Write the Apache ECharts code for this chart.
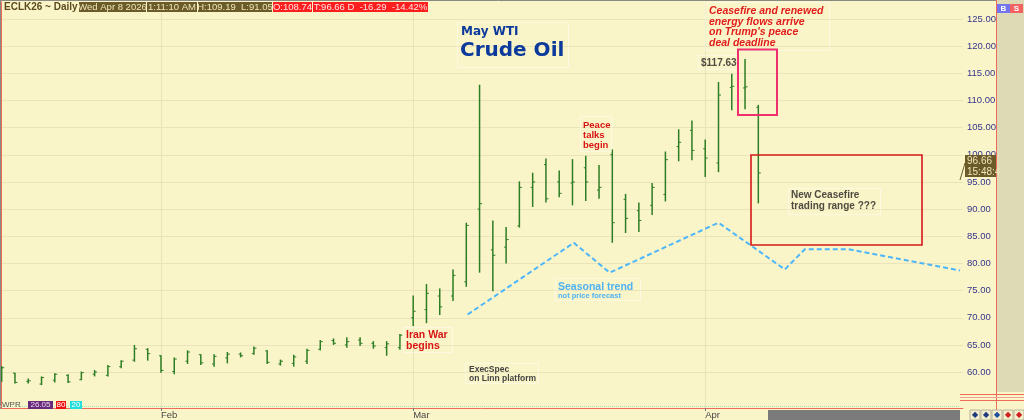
<!DOCTYPE html>
<html><head><meta charset="utf-8">
<script src="https://cdn.jsdelivr.net/npm/echarts@6/dist/echarts.min.js"></script>
<style>html,body{margin:0;padding:0;background:#faf5c9;}#c{width:1024px;height:420px;}</style>
</head><body><div id="c"></div>
<script>
// ---- data ----
const dates = ['Jan 14','Jan 15','Jan 16','Jan 20','Jan 21','Jan 22','Jan 23','Jan 26','Jan 27','Jan 28','Jan 29','Jan 30',
 'Feb 2','Feb 3','Feb 4','Feb 5','Feb 6','Feb 9','Feb 10','Feb 11','Feb 12','Feb 13','Feb 17','Feb 18','Feb 19','Feb 20','Feb 23','Feb 24','Feb 25','Feb 26','Feb 27',
 'Mar 2','Mar 3','Mar 4','Mar 5','Mar 6','Mar 9','Mar 10','Mar 11','Mar 12','Mar 13','Mar 16','Mar 17','Mar 18','Mar 19','Mar 20','Mar 23','Mar 24','Mar 25','Mar 26','Mar 27','Mar 30','Mar 31',
 'Apr 1','Apr 2','Apr 6','Apr 7','Apr 8'];
const openP  = [59.0,59.8,58.3,57.8,58.5,59.4,58.6,59.6,59.4,61.0,62.2,64.2,
 63.0,60.1,62.0,63.2,61.5,62.6,63.3,63.4,63.9,61.5,61.6,62.0,64.2,65.8,65.0,65.9,65.3,64.5,64.5,
 70.0,71.5,74.0,74.0,76.6,90.0,82.5,83.0,86.9,94.0,98.2,95.0,94.8,97.6,93.5,100.0,91.8,89.7,90.7,92.7,101.5,104.5,
 101.1,98.5,112.4,112.3,108.74];
const highP  = [61.1,59.9,58.8,59.2,59.8,59.6,60.1,60.4,61.3,62.2,65.0,64.4,
 63.1,62.7,64.0,63.3,63.3,63.7,63.6,64.7,64.0,62.3,63.2,64.3,65.9,66.2,66.4,66.4,65.7,65.7,67.0,
 74.1,76.2,75.4,78.9,87.5,112.9,87.9,86.7,95.1,96.7,99.3,97.1,99.2,99.8,98.1,101.0,92.8,91.2,94.8,100.6,104.7,106.3,
 102.8,113.4,114.9,117.63,109.19];
const lowP   = [58.2,57.9,57.9,57.6,58.1,58.0,58.5,59.2,59.2,60.7,61.9,62.1,
 59.9,59.6,61.5,61.3,61.0,61.6,62.7,63.2,61.5,61.2,61.0,61.5,64.0,65.0,64.5,64.8,64.3,63.0,64.1,
 68.5,69.0,70.5,73.1,75.7,78.3,74.9,80.0,86.6,90.4,91.2,92.2,90.7,91.5,91.9,83.8,85.6,85.8,88.9,91.4,98.8,99.0,
 95.9,96.8,108.2,108.4,91.05];
const closeP = [60.8,58.1,58.4,59.0,59.6,58.2,59.9,60.0,61.0,62.0,64.3,63.4,
 60.3,62.4,63.7,61.7,62.9,63.3,63.0,64.4,61.8,62.0,62.8,64.0,65.6,65.3,65.6,65.3,64.8,65.2,66.8,
 71.2,74.5,72.0,77.8,87.0,91.0,81.5,84.4,94.0,95.0,91.9,92.9,95.0,95.0,94.0,87.5,88.3,87.9,94.0,99.1,102.3,100.8,
 99.4,111.0,112.6,112.5,96.66];
// seasonal trend: x = trading-day index (future days continue the count), y = price
const seasonalIdx = [35.1, 43.1, 45.8, 54.0, 59.0, 60.5, 63.8, 72.2];
const seasonalVal = [70.6, 83.8, 78.3, 87.5, 78.9, 82.6, 82.6, 78.7];
const priceTicks = [60,65,70,75,80,85,90,95,100,105,110,115,120,125];
const monthNames = {Jan:'Jan',Feb:'Feb',Mar:'Mar',Apr:'Apr'};

// month ticks: first trading day of each new month
const monthIdx = [];
dates.forEach((d,i)=>{ if(i>0 && d.split(' ')[0]!==dates[i-1].split(' ')[0]) monthIdx.push(i); });

const ohlc = dates.map((d,i)=>[i, openP[i], highP[i], lowP[i], closeP[i]]);
const seasonal = seasonalIdx.map((x,i)=>[x, seasonalVal[i]]);

const chart = echarts.init(document.getElementById('c'));
const BAR = '#2d7d25';
const G = [];
function rect(x,y,w,h,fill,stroke,lw,dash){G.push({type:'rect',z:100,shape:{x,y,width:w,height:h},style:{fill:fill||'none',stroke:stroke||'none',lineWidth:lw||1,lineDash:dash||null}});}
function line(x1,y1,x2,y2,stroke,lw,dash){G.push({type:'line',z:100,shape:{x1,y1,x2,y2},style:{stroke,lineWidth:lw||1,lineDash:dash||null}});}
function txt(x,y,t,font,fill,align,va){G.push({type:'text',z:101,x,y,style:{text:t,font,fill,align:align||'left',verticalAlign:va||'middle'}});}

// frame
line(0,0.5,997,0.5,'#8a8a80',1);
line(0.5,0,0.5,409,'#8a8a80',1);
// right panel
rect(997,0,27,392,'#dedab6');
line(996.5,0,996.5,420,'#ee6a5a',1);
rect(997,4,13,9,'#7474ee'); txt(1003.5,8.5,'B','bold 8px "Liberation Sans"','#ffffff','center');
rect(1010,4,13,9,'#f26262'); txt(1016.5,8.5,'S','bold 8px "Liberation Sans"','#ffffff','center');
line(960,394.5,1024,394.5,'#ee6a5a',1);
line(960,397.5,1024,397.5,'#f0a090',1);
line(960,400.5,1024,400.5,'#ee6a5a',1);
// bottom strip
rect(768,410,192,10,'#7b7b7b');
const btnCols=['#203a80','#203a80','#2050a0','#d02020','#d02020'];
for(let k=0;k<5;k++){rect(970+k*11,410,10,10,'#f3eecb','#b8b49a',1); txt(975+k*11,415,'◆','8px "DejaVu Sans"',btnCols[k],'center');}
// WPR indicator strip
line(0,406.5,960,406.5,'#9fe3c6',1,[1,1]);
txt(2,405,'WPR','8px "Liberation Sans"','#555555');
rect(28,401,25,8,'#6a2a7a'); txt(40.5,405,'26.05','8px "Liberation Sans"','#e8d8f0','center');
rect(56,401,10,8,'#ee1111'); txt(61,405,'80','8px "Liberation Sans"','#ffffff','center');
rect(70,401,12,8,'#22dddd'); txt(76,405,'20','8px "Liberation Sans"','#ffffff','center');

// header
txt(4,7.5,'ECLK26 ~ Daily','bold 10px "Liberation Sans"','#5b4b1c');
const hb=[[79,67,'#6b5b2b','Wed Apr 8 2026','#efe5b5'],[147,50,'#6b5b2b','1:11:10 AM','#efe5b5'],[198,74,'#6b5b2b','H:109.19  L:91.05','#efe5b5'],
 [273,39,'#ff1e1e','O:108.74','#ffe4e4'],[313,115,'#ff1e1e','T:96.66 D  -16.29  -14.42%','#ffe4e4']];
hb.forEach(b=>{rect(b[0],2,b[1],10,b[2]); txt(b[0]+b[1]/2,7.5,b[3],'9.5px "Liberation Sans"',b[4],'center');});

// title
rect(457.5,22.5,111,45,'none','rgba(255,255,255,0.9)',1,[1,1]);
txt(461,31.5,'May WTI','bold 12px "DejaVu Sans"','#0c3a9c');
txt(460,51,'Crude Oil','bold 20px "DejaVu Sans"','#0c3a9c');

// annotations
rect(705.5,2.5,124,48,'none','rgba(255,255,255,0.9)',1,[1,1]);
['Ceasefire and renewed','energy flows arrive','on Trump\'s peace','deal deadline'].forEach((s,i)=>txt(709,11+i*10.7,s,'italic bold 10.5px "Liberation Sans"','#e01c1c'));
rect(698.5,55.5,40,14,'none','rgba(255,255,255,0.9)',1,[1,1]);
txt(701,63,'$117.63','bold 10px "Liberation Sans"','#504c40');
rect(738,49.5,39,65.5,'none','#f0306e',2);
rect(751,155,171,90,'none','#d41a1a',1.6);
rect(788.5,188.5,92,26,'none','rgba(255,255,255,0.9)',1,[1,1]);
txt(791,195.5,'New Ceasefire','bold 10px "Liberation Sans"','#4e4a40');
txt(791,206.5,'trading range ???','bold 10px "Liberation Sans"','#4e4a40');
rect(580.5,116.5,31,35,'none','rgba(255,255,255,0.9)',1,[1,1]);
['Peace','talks','begin'].forEach((s,i)=>txt(583,125+i*10,s,'bold 9.5px "Liberation Sans"','#d81414'));
rect(403.5,327.5,49,25,'none','rgba(255,255,255,0.9)',1,[1,1]);
txt(406,335,'Iran War','bold 10.5px "Liberation Sans"','#d81414');
txt(406,346,'begins','bold 10.5px "Liberation Sans"','#d81414');
rect(555.5,278.5,85,22,'none','rgba(255,255,255,0.9)',1,[1,1]);
txt(558,287,'Seasonal trend','bold 10.5px "Liberation Sans"','#4fb2f2');
txt(558,296,'not price forecast','bold 7.5px "Liberation Sans"','#4fb2f2');
rect(465.5,363.5,73,20,'none','rgba(255,255,255,0.9)',1,[1,1]);
txt(469,369.5,'ExecSpec','bold 8.5px "Liberation Sans"','#444444');
txt(469,378.5,'on Linn platform','bold 8.5px "Liberation Sans"','#444444');
// last price box
line(960,180,965,163,'#6b5b2b',1);
rect(965,155,31,22,'#6b5b2b');
txt(967,161,'96.66','10px "Liberation Sans"','#efe5b5');
txt(967,172,'15:48:4','10px "Liberation Sans"','#efe5b5');

chart.setOption({
  animation:false,
  backgroundColor:'#faf5c9',
  grid:{left:0,right:61,top:2,bottom:11},
  xAxis:{type:'value',min:-0.128,max:72.42,
    axisLine:{show:true,onZero:false,lineStyle:{color:'#ef6a58',width:1}},
    axisTick:{show:true,customValues:monthIdx,length:3,lineStyle:{color:'#777'}},
    axisLabel:{customValues:monthIdx,formatter:v=>monthNames[dates[Math.round(v)].split(' ')[0]],align:'left',margin:2,
      fontFamily:'Liberation Sans',fontSize:9.5,color:'#454545'},
    splitLine:{show:true,lineStyle:{color:'#e9e3b9',width:1}}},
  yAxis:{type:'value',position:'right',min:53.39,max:128.12,scale:true,
    axisLine:{show:true,lineStyle:{color:'#ef6a58',width:1}},
    axisTick:{show:true,inside:true,length:3,customValues:priceTicks,lineStyle:{color:'#ef6a58'}},
    axisLabel:{customValues:priceTicks,formatter:v=>v.toFixed(2),margin:4,fontFamily:'Liberation Sans',fontSize:9.5,color:'#34348c'},
    splitLine:{show:true,lineStyle:{color:'#ebe4ba',width:1}}},
  series:[
    {type:'custom',z:3,data:ohlc,encode:{x:0,y:[1,2,3,4]},
     renderItem:(params,api)=>{
       const x=api.value(0);
       const h=api.coord([x,api.value(2)]), l=api.coord([x,api.value(3)]);
       const o=api.coord([x,api.value(1)]), c=api.coord([x,api.value(4)]);
       const px=h[0];
       const st={stroke:BAR,lineWidth:1.5};
       return {type:'group',children:[
         {type:'line',shape:{x1:px,y1:h[1],x2:px,y2:l[1]},style:st},
         {type:'line',shape:{x1:px-2,y1:o[1],x2:px,y2:o[1]},style:{stroke:BAR,lineWidth:1}},
         {type:'line',shape:{x1:px,y1:c[1],x2:px+2.5,y2:c[1]},style:{stroke:BAR,lineWidth:1}}
       ]};
     }},
    {type:'line',z:4,data:seasonal,symbol:'none',lineStyle:{color:'#4db6fb',width:2,type:[5,3]}}
  ],
  graphic:G
});
</script></body></html>
